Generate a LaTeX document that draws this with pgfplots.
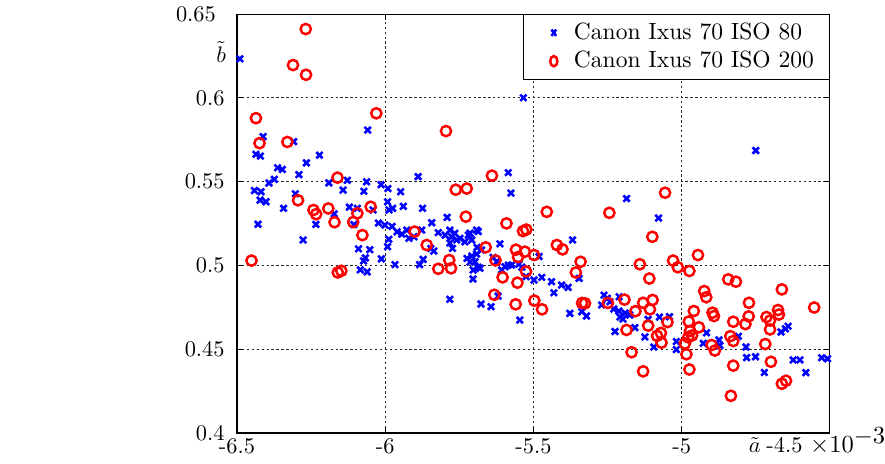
\documentclass[border=0pt]{standalone}
\usepackage{pgfplots}
\pgfplotsset{compat=1.18}
\usepackage{pgfplotstable}

% Legend symbols: a single, slightly narrowed marker per entry
\pgfplotsset{
  narrow legend mark/.style={legend image code/.code={%
    \path[draw=none, fill=none] (0pt,0pt) -- (15.5pt,0pt);
    \draw[##1, every mark/.append style={xscale=#1}] plot coordinates {(8.5pt,0pt)};}},
}

% Noise model estimates (a in units of 1e-3, b) per image, Canon Ixus 70
\pgfplotstableread{
a b
-6.490 0.6233
-6.412 0.5769
-6.309 0.5739
-6.059 0.5808
-6.436 0.5663
-6.421 0.5653
-6.222 0.5658
-6.266 0.5612
-6.363 0.5583
-6.347 0.5573
-6.291 0.5542
-6.374 0.5514
-6.392 0.5492
-6.190 0.5493
-6.128 0.5508
-6.063 0.5499
-6.014 0.5482
-5.991 0.5459
-5.889 0.5530
-5.585 0.5554
-5.576 0.5432
-6.441 0.5447
-6.419 0.5440
-6.422 0.5390
-6.402 0.5380
-6.303 0.5428
-6.142 0.5450
-6.072 0.5443
-5.948 0.5440
-6.343 0.5341
-6.172 0.5308
-6.121 0.5348
-6.094 0.5341
-6.041 0.5331
-5.992 0.5380
-5.987 0.5331
-5.975 0.5341
-5.939 0.5353
-5.874 0.5341
-5.843 0.5255
-5.791 0.5287
-6.429 0.5246
-6.234 0.5245
-6.023 0.5253
-6.001 0.5241
-5.977 0.5233
-5.692 0.5211
-6.277 0.5152
-6.106 0.5244
-6.090 0.5099
-6.052 0.5094
-6.067 0.5045
-6.073 0.5027
-6.084 0.4974
-6.061 0.4962
-6.013 0.5039
-5.988 0.5156
-5.992 0.5112
-5.967 0.5005
-5.960 0.5201
-5.944 0.5187
-5.927 0.5211
-5.920 0.5162
-5.903 0.5171
-5.877 0.5211
-5.884 0.5005
-5.872 0.5036
-5.846 0.5101
-5.836 0.5086
-5.821 0.5196
-5.798 0.5181
-5.782 0.5211
-5.776 0.5171
-5.765 0.5192
-5.759 0.5152
-5.748 0.5162
-5.731 0.5141
-5.708 0.5152
-5.714 0.5192
-5.686 0.5202
-5.720 0.5181
-5.782 0.5134
-5.773 0.5102
-5.724 0.5042
-5.708 0.5056
-5.692 0.5068
-5.697 0.5022
-5.687 0.4990
-5.703 0.4973
-5.680 0.4983
-5.704 0.4919
-5.714 0.5020
-5.690 0.5108
-5.675 0.5092
-5.782 0.4798
-5.677 0.4770
-5.643 0.4754
-5.613 0.5129
-5.636 0.5048
-5.624 0.5022
-5.596 0.4992
-5.607 0.4973
-5.585 0.5002
-5.574 0.5002
-5.549 0.5008
-5.539 0.4990
-5.546 0.4674
-5.498 0.4913
-5.525 0.4933
-5.619 0.4817
-5.481 0.5053
-5.472 0.4929
-5.439 0.4903
-5.431 0.4837
-5.405 0.4883
-5.383 0.4869
-5.346 0.4923
-5.368 0.5152
-5.377 0.4714
-5.337 0.4724
-5.321 0.4698
-5.262 0.4823
-5.251 0.4804
-5.270 0.4764
-5.242 0.4783
-5.211 0.4813
-5.229 0.4740
-5.212 0.4728
-5.208 0.4692
-5.191 0.4716
-5.175 0.4704
-5.198 0.4680
-5.225 0.4606
-5.158 0.4629
-5.124 0.4573
-5.094 0.4513
-5.075 0.4692
-5.041 0.4694
-5.113 0.4678
-5.018 0.4546
-5.018 0.4498
-5.186 0.5399
-5.078 0.5283
-4.927 0.4535
-4.916 0.4598
-4.874 0.4555
-4.871 0.4522
-4.809 0.4577
-4.783 0.4513
-4.781 0.4450
-4.751 0.4455
-4.721 0.4361
-4.665 0.4603
-4.650 0.4622
-4.641 0.4637
-4.624 0.4436
-4.601 0.4436
-4.581 0.4360
-4.528 0.4449
-4.508 0.4443
-4.750 0.5686
-5.534 0.6001
}\isoeighty

\pgfplotstableread{
a b
-6.268 0.6411
-6.311 0.6196
-6.267 0.6138
-6.436 0.5879
-6.424 0.5730
-6.330 0.5737
-6.030 0.5908
-5.795 0.5802
-5.640 0.5536
-5.762 0.5452
-5.725 0.5459
-6.161 0.5524
-6.294 0.5389
-6.242 0.5331
-6.233 0.5306
-6.192 0.5340
-6.049 0.5350
-6.094 0.5311
-6.171 0.5258
-6.108 0.5259
-5.728 0.5291
-5.591 0.5251
-5.535 0.5205
-5.524 0.5214
-5.901 0.5202
-6.077 0.5181
-6.451 0.5029
-6.160 0.4958
-6.148 0.4968
-5.860 0.5122
-5.821 0.4980
-5.784 0.5032
-5.778 0.4983
-5.661 0.5108
-5.628 0.5030
-5.604 0.4929
-5.632 0.4825
-5.559 0.5094
-5.552 0.5050
-5.529 0.5082
-5.498 0.5062
-5.525 0.4964
-5.554 0.4897
-5.560 0.4768
-5.497 0.4790
-5.455 0.5320
-5.244 0.5314
-5.056 0.5434
-5.421 0.5122
-5.402 0.5096
-5.099 0.5171
-5.341 0.5022
-5.357 0.4958
-5.141 0.5007
-5.029 0.5029
-5.013 0.4989
-5.109 0.4922
-5.471 0.4738
-5.336 0.4776
-5.326 0.4774
-5.249 0.4776
-5.193 0.4796
-5.130 0.4777
-5.098 0.4794
-5.107 0.4738
-5.156 0.4727
-5.113 0.4641
-5.186 0.4615
-5.048 0.4662
-5.083 0.4580
-5.070 0.4597
-5.068 0.4539
-5.169 0.4482
-5.130 0.4368
-4.945 0.5062
-4.974 0.4967
-4.843 0.4917
-4.817 0.4903
-4.924 0.4847
-4.917 0.4810
-4.662 0.4857
-4.773 0.4777
-4.553 0.4749
-4.959 0.4728
-4.896 0.4718
-4.891 0.4698
-4.976 0.4665
-4.942 0.4631
-4.826 0.4664
-4.774 0.4696
-4.785 0.4650
-4.714 0.4692
-4.702 0.4671
-4.675 0.4734
-4.672 0.4707
-4.702 0.4618
-4.972 0.4609
-4.965 0.4582
-4.978 0.4571
-4.989 0.4534
-4.836 0.4578
-4.826 0.4549
-4.899 0.4525
-4.888 0.4492
-4.718 0.4531
-4.984 0.4470
-4.699 0.4425
-4.826 0.4402
-4.974 0.4379
-4.662 0.4294
-4.648 0.4312
-4.834 0.4222
}\isotwohundred

\begin{document}
\begin{tikzpicture}
\begin{axis}[
  name=ax,
  at={(0,0)}, anchor=south west,
  scale only axis, width=264.7pt, height=187pt,
  xmin=-6.5, xmax=-4.5, ymin=0.4, ymax=0.65,
  xtick={-6.5,-6,-5.5,-5,-4.5}, xticklabels={-6.5,-6,-5.5,-5,{}},
  ytick={0.4,0.45,0.5,0.55,0.6,0.65}, yticklabels={0.4,0.45,0.5,0.55,0.6,{}},
  xticklabel style={yshift=1.2pt},
  yticklabel style={xshift=-2pt},
  tick align=inside, major tick length=2.5pt,
  every tick/.style={black, line width=0.4pt},
  xmajorgrids, ymajorgrids,
  grid style={black!85, line width=0.4pt, dash pattern=on 1pt off 1.2pt},
  axis line style={black, line width=0.5pt},
  legend cell align=left,
  legend style={at={(1,1)}, anchor=north east, draw=black, line width=0.5pt,
    fill=white, inner xsep=4.9pt, inner ysep=1.6pt, row sep=-0.2pt,
    font=\fontsize{10.5pt}{12pt}\selectfont,
    /tikz/every even column/.append style={column sep=3.4pt}},
]
\addplot[only marks, blue, mark=x, mark size=2pt, line width=1.15pt,
  narrow legend mark=0.75]
  table[x=a, y=b] {\isoeighty};
\addlegendentry{Canon Ixus 70 ISO 80}
\addplot[only marks, red, mark=o, mark size=2.3pt, line width=1.1pt,
  narrow legend mark=0.7]
  table[x=a, y=b] {\isotwohundred};
\addlegendentry{Canon Ixus 70 ISO 200}
\end{axis}

% end-of-axis tick labels, set aside to leave room for the labels beside them
\node[anchor=base] at ([xshift=-20.3pt, yshift=-8.6pt]ax.south east) {-4.5};
\node[anchor=east] at ([xshift=-5.9pt]ax.north west) {0.65};
% axis labels and the scale factor of a
\node[anchor=base, inner sep=0pt] at ([xshift=-33.5pt, yshift=-8.6pt]ax.south east) {$\tilde{a}$};
\node[anchor=base west, inner sep=0pt, font=\fontsize{11pt}{13pt}\selectfont]
  at ([xshift=-9pt, yshift=-8.6pt]ax.south east) {$\times 10^{\textstyle -3}$};
\node[anchor=base, inner sep=0pt] at ([xshift=-7.1pt, yshift=-21.7pt]ax.north west) {$\tilde{b}$};

\pgfresetboundingbox
\path (-105.8pt,-13.8pt) rectangle (289.3pt,193.3pt);
\end{tikzpicture}
\end{document}
